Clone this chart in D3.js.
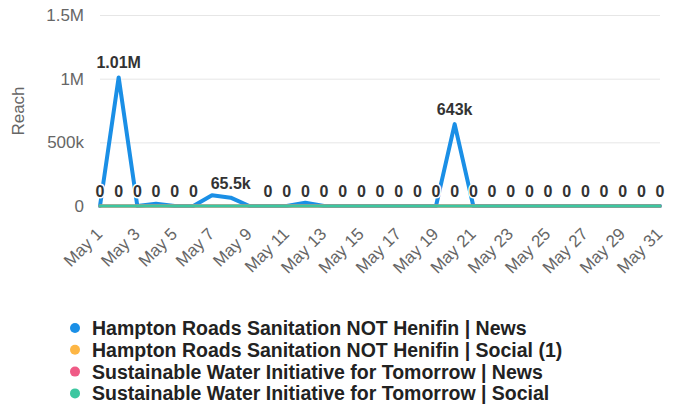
<!DOCTYPE html>
<html>
<head>
<meta charset="utf-8">
<script src="https://cdn.jsdelivr.net/npm/d3@7"></script>
<style>
  body { margin: 0; background: #fff; }
  svg { font-family: "Liberation Sans", Arial, sans-serif; }
</style>
</head>
<body>
<div id="chart"></div>
<script>
var days = ["May 1", "May 2", "May 3", "May 4", "May 5", "May 6", "May 7", "May 8",
  "May 9", "May 10", "May 11", "May 12", "May 13", "May 14", "May 15", "May 16",
  "May 17", "May 18", "May 19", "May 20", "May 21", "May 22", "May 23", "May 24",
  "May 25", "May 26", "May 27", "May 28", "May 29", "May 30", "May 31"];

var hrsdNews = [0, 1010000, 0, 18500, 0, 0, 85000, 65500, 0, 0, 0, 25000, 0, 0, 0, 0,
  0, 0, 0, 643000, 0, 0, 0, 0, 0, 0, 0, 0, 0, 0, 0];
var hrsdSocial = [0, 0, 0, 0, 0, 0, 0, 0, 0, 0, 0, 0, 0, 0, 0, 0,
  0, 0, 0, 0, 0, 0, 0, 0, 0, 0, 0, 0, 0, 0, 0];
var swiftNews = [0, 0, 0, 0, 0, 0, 0, 0, 0, 0, 0, 0, 0, 0, 0, 0,
  0, 0, 0, 0, 0, 0, 0, 0, 0, 0, 0, 0, 0, 0, 0];
var swiftSocial = [0, 0, 0, 0, 0, 0, 0, 0, 0, 0, 0, 0, 0, 0, 0, 0,
  0, 0, 0, 0, 0, 0, 0, 0, 0, 0, 0, 0, 0, 0, 0];

var seriesNames = ["Hampton Roads Sanitation NOT Henifin | News",
  "Hampton Roads Sanitation NOT Henifin | Social (1)",
  "Sustainable Water Initiative for Tomorrow | News",
  "Sustainable Water Initiative for Tomorrow | Social"];
var seriesColors = ["#1a8fe6", "#fdb645", "#ef5b86", "#3cc7a0"];
var yTicks = [0, 500000, 1000000, 1500000];
var xTicks = ["May 1", "May 3", "May 5", "May 7", "May 9", "May 11", "May 13", "May 15",
  "May 17", "May 19", "May 21", "May 23", "May 25", "May 27", "May 29", "May 31"];

var width = 678, height = 417;
var series = [hrsdNews, hrsdSocial, swiftNews, swiftSocial].map(function (v, i) {
  return { name: seriesNames[i], color: seriesColors[i], values: v };
});

var svg = d3.select("#chart").append("svg")
  .attr("width", width)
  .attr("height", height);

var x = d3.scalePoint().domain(days).range([100, 660]);
var y = d3.scaleLinear().domain([0, 1500000]).range([206, 15]);

// grid + y labels
var yAxis = svg.append("g")
  .attr("transform", "translate(100,0)")
  .call(d3.axisLeft(y).tickValues(yTicks).tickFormat(d3.format("~s"))
    .tickSize(-560).tickPadding(16));
yAxis.select(".domain").remove();
yAxis.selectAll(".tick line").attr("stroke", "#e6e6e6");
yAxis.selectAll(".tick text").attr("fill", "#666").style("font-size", "17px");

svg.append("text")
  .attr("transform", "translate(24,111) rotate(-90)")
  .attr("text-anchor", "middle")
  .attr("fill", "#666")
  .style("font-size", "17px")
  .text("Reach");

// x labels
var xAxis = svg.append("g")
  .attr("transform", "translate(0,206)")
  .call(d3.axisBottom(x).tickValues(xTicks).tickSize(0).tickPadding(0));
xAxis.select(".domain").remove();
xAxis.selectAll(".tick text")
  .attr("fill", "#666")
  .style("font-size", "17px")
  .attr("text-anchor", "end")
  .attr("dy", null)
  .attr("y", null)
  .attr("transform", "translate(3,29) rotate(-45)");

// lines
var line = d3.line()
  .x(function (d, i) { return x(days[i]); })
  .y(function (d) { return y(d); });

svg.append("g").selectAll("path")
  .data(series)
  .enter()
  .append("path")
  .attr("d", function (s) { return line(s.values); })
  .attr("fill", "none")
  .attr("stroke", function (s) { return s.color; })
  .attr("stroke-width", function (s, i) { return i === 0 ? 4 : 3; })
  .attr("stroke-linejoin", "round")
  .attr("stroke-linecap", "round");

// data labels, hidden when they collide with one already shown
var fmt = d3.format(".3~s");
var labels = svg.append("g");
var placed = [];
function hits(a, b) {
  var p = 2;
  return a.x - p < b.x + b.width + p && b.x - p < a.x + a.width + p &&
    a.y < b.y + b.height && b.y < a.y + a.height;
}
series.forEach(function (s) {
  s.values.forEach(function (v, i) {
    var t = labels.append("text")
      .attr("x", x(days[i]))
      .attr("y", y(v) - 9)
      .attr("text-anchor", "middle")
      .attr("fill", "#333")
      .attr("stroke", "#fff")
      .attr("stroke-width", 3)
      .attr("paint-order", "stroke")
      .style("font-size", "16px")
      .style("font-weight", "bold")
      .text(fmt(v));
    var b = t.node().getBBox();
    if (placed.some(function (p) { return hits(b, p); })) t.remove();
    else placed.push(b);
  });
});

// legend
var legend = svg.append("g").selectAll("g")
  .data(series)
  .enter()
  .append("g")
  .attr("transform", function (d, i) { return "translate(75," + (328 + i * 21.8) + ")"; });

legend.append("circle")
  .attr("r", 5)
  .attr("fill", function (d) { return d.color; });

legend.append("text")
  .attr("x", 17)
  .attr("dy", "0.36em")
  .attr("fill", "#222")
  .style("font-size", "19.5px")
  .style("font-weight", "bold")
  .text(function (d) { return d.name; });
</script>
</body>
</html>
